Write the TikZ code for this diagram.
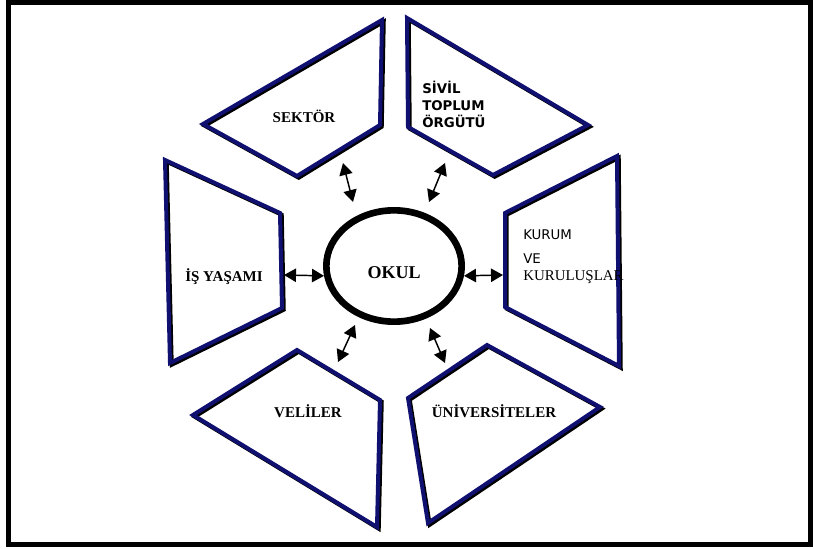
\documentclass[tikz,border=0pt]{standalone}
\usepackage{fontspec}
\setmainfont{Liberation Serif}
\newfontfamily\vfont{DejaVu Sans}
\usepackage{xcolor}
\usetikzlibrary{shapes,arrows,arrows.meta,positioning,calc}
\definecolor{navy}{RGB}{16,16,112}

\begin{document}
\begin{tikzpicture}[x=0.75pt, y=-0.75pt,
    panel/.style={draw=navy, line width=3pt, line join=miter,
        preaction={draw=black, line width=3pt, transform canvas={shift={(1.3pt,-1.3pt)}}}},
    lbl/.style={font=\bfseries\fontsize{11.25}{13}\selectfont, inner sep=0, anchor=base},
    ring/.style={ellipse, draw, line width=5pt, minimum width=101.5pt, minimum height=83.5pt,
        text height=18.8pt, text depth=0pt, font=\bfseries\fontsize{13.5}{15}\selectfont},
    arrow/.style={{Triangle[length=9pt,width=10pt]}-{Triangle[length=9pt,width=10pt]}, line width=1.1pt}
]
    \useasboundingbox (0,0) rectangle (814,549);
    \draw[line width=3.75pt] (8.5,2.5) rectangle (810.5,544);

    % the six partners
    \draw[panel] (382,20) -- (380,125) -- (297,176) -- (203,124) -- cycle;
    \draw[panel] (407,18) -- (588,125) -- (493,175) -- (408,127) -- cycle;
    \draw[panel] (165,160) -- (280,213) -- (282,308) -- (170,363) -- cycle;
    \draw[panel] (617,156) -- (505,213) -- (505,307) -- (619,366) -- cycle;
    \draw[panel] (297,350) -- (380,400) -- (377,527) -- (193,415) -- cycle;
    \draw[panel] (487,345) -- (600,407) -- (428,523) -- (408,398) -- cycle;

    \node[ring] (okul) at (394,266) {OKUL};

    \node[lbl] (sektor) at (304,123) {SEKTÖR};
    \node[lbl] (is) at (224,281) {İŞ YAŞAMI};
    \node[lbl] (veli) at (308,417) {VELİLER};
    \node[lbl] (uni) at (494,417) {ÜNİVERSİTELER};
    \node[align=left, inner sep=0, anchor=base west, font=\vfont\bfseries\fontsize{10}{13.1}\selectfont]
        (stk) at (422,128) {SİVİL\\TOPLUM\\ÖRGÜTÜ};
    \node[align=left, inner sep=0, anchor=base west, font=\vfont\fontsize{10}{12.75}\selectfont]
        (kurum) at (523,280) {KURUM\\[5.25pt]VE\\{\rmfamily\fontsize{11.2}{12.75}\selectfont KURULUŞLAR}};

    % free ends of the links
    \coordinate (isR) at (284,275);
    \coordinate (kurumL) at (503,275);
    \coordinate (sektorB) at (343,163);
    \coordinate (okulUL) at (353,202);
    \coordinate (stkB) at (445,163);
    \coordinate (okulUR) at (429,202);
    \coordinate (okulLL) at (355,325);
    \coordinate (veliT) at (338,362);
    \coordinate (okulLR) at (430,328);
    \coordinate (uniT) at (445,363);

    \draw[arrow] (isR) -- (okul.188);
    \draw[arrow] (okul.352) -- (kurumL);
    \draw[arrow] (sektorB) -- (okulUL);
    \draw[arrow] (stkB) -- (okulUR);
    \draw[arrow] (okulLL) -- (veliT);
    \draw[arrow] (okulLR) -- (uniT);
\end{tikzpicture}
\end{document}
